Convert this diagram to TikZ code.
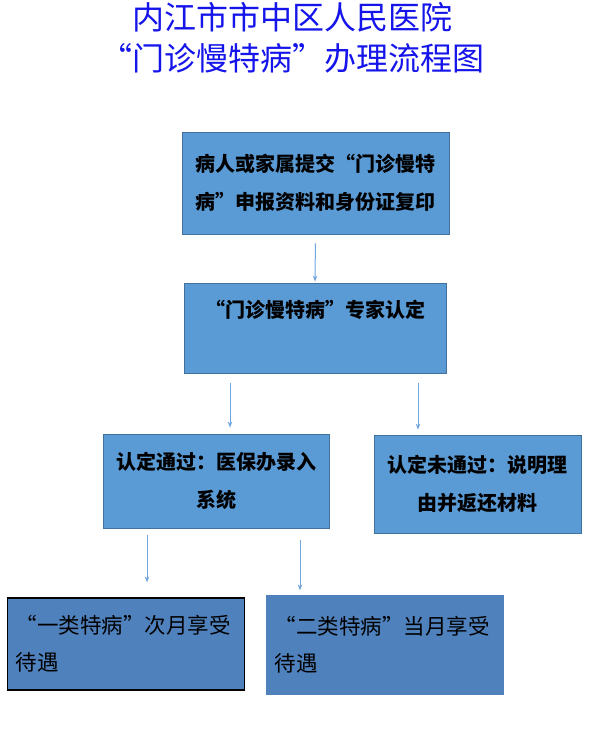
\documentclass[tikz,border=0pt]{standalone}
\usepackage{fontspec}
\setmainfont{Noto Sans CJK SC}
\usetikzlibrary{arrows.meta, positioning, calc}
\definecolor{titleblue}{RGB}{20,20,235}
\definecolor{boxblue}{RGB}{91,155,213}
\definecolor{boxedge}{RGB}{65,113,156}
\definecolor{darkblue}{RGB}{79,129,189}
\definecolor{arrowblue}{RGB}{110,165,222}

\begin{document}
\begin{tikzpicture}[
    x=1pt, y=-1pt,
    %% Styles
    box/.style={
      rectangle, draw=boxedge, fill=boxblue, line width=0.8pt,
      inner sep=10pt, align=center,
      font=\fontsize{20pt}{38pt}\selectfont\bfseries
    },
    resultBox/.style={
      rectangle, fill=darkblue, line width=1.2pt,
      inner sep=8pt, align=left, text width=221pt,
      font=\fontsize{21.5pt}{37pt}\selectfont
    },
    arrow/.style={-{Stealth[length=6pt, width=4.5pt]}, line width=1pt, draw=arrowblue}
  ]
  \useasboundingbox (0,0) rectangle (591,733);

  %% ── Title ───────────────────────────────────────────────
  \node[text=titleblue, align=center, font=\fontsize{32pt}{41pt}\selectfont] (title) at (292,38)
    {内江市市中区人民医院\\“门诊慢特病”办理流程图};

  %% ── Row 1: Application  (y = 183) ───────────────────────
  \node[box, minimum width=267pt, minimum height=102pt] (apply) at (315.5,183)
    {病人或家属提交“门诊慢特\\病”申报资料和身份证复印};

  %% ── Row 2: Expert review  (y = 328) ─────────────────────
  \node[box, minimum width=262pt, minimum height=90pt] (review) at (315,328)
    {“门诊慢特病”专家认定\\\mbox{}};

  %% ── Row 3: Passed | Failed  (y = 482) ───────────────────
  \node[box, minimum width=226pt, minimum height=94pt] (passed) at (216,481)
    {认定通过：医保办录入\\系统};

  \node[box, minimum width=207pt, minimum height=98pt] (failed) at (477.5,484)
    {认定未通过：说明理\\由并返还材料};

  %% ── Row 4: Categories  (y = 645) ────────────────────────
  \node[resultBox, draw=black, minimum height=92pt] (typeone) at (126,644)
    {“一类特病”次月享受\\待遇};

  \node[resultBox, minimum width=238pt, minimum height=100pt] (typetwo) at (385,645)
    {“二类特病”当月享受\\待遇};

  %% ── Arrows ──────────────────────────────────────────────
  \draw[arrow, shorten <=9pt, shorten >=1pt] (apply.south) -- (review.north);

  \draw[arrow, shorten <=10pt, shorten >=6pt]
    ([xshift=-85pt]review.south) -- ([xshift=-85pt]review.south |- passed.north);
  \draw[arrow, shorten <=10pt, shorten >=5pt]
    ([xshift=103pt]review.south) -- ([xshift=103pt]review.south |- failed.north);

  \draw[arrow, shorten <=7pt, shorten >=15pt]
    ([xshift=-69pt]passed.south) -- ([xshift=-69pt]passed.south |- typeone.north);
  \draw[arrow, shorten <=12pt, shorten >=4pt]
    ([xshift=84pt]passed.south) -- ([xshift=84pt]passed.south |- typetwo.north);

\end{tikzpicture}
\end{document}
